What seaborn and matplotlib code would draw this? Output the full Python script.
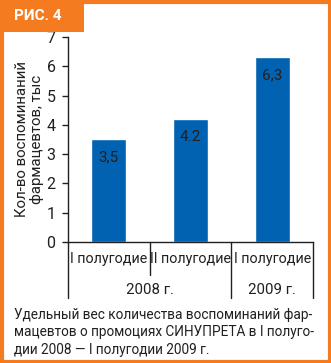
import matplotlib
matplotlib.use("Agg")
import matplotlib.pyplot as plt
import seaborn as sns
import pandas as pd
from matplotlib.patches import Rectangle

sns.set_style("white")
plt.rcParams['font.family'] = ['Roboto', 'DejaVu Sans']

categories = ["I полугодие", "II полугодие", "I полугодие"]
values = [3.5, 4.2, 6.3]
value_labels = ["3,5", "4.2", "6,3"]
years = ["2008 г.", "2009 г."]
yticks = [0, 1, 2, 3, 4, 5, 6, 7]

ORANGE = "#F47B20"
BLUE = "#0062B0"
TXT = "#231F20"

df = pd.DataFrame({"pos": [0, 1, 2], "val": values})

fig = plt.figure(figsize=(3.31, 3.63), dpi=100)
ax = fig.add_axes([68/331, 1-242/363, (313-68)/331, (242-37)/363])
sns.barplot(data=df, x="pos", y="val", color=BLUE, width=0.43, ax=ax,
            saturation=1, native_scale=True)
ax.set_xlim(-0.5, 2.5)
ax.set_ylim(0, 7)
ax.set_yticks(yticks)
ax.set_yticklabels([str(t) for t in yticks], fontsize=11.5, color=TXT)
ax.set_xticks([])
ax.set_xlabel("")
ax.set_ylabel("Кол-во воспоминаний\nфармацевтов, тыс", fontsize=10.8, color=TXT,
              labelpad=2, linespacing=1.05)
for s in ["top", "right"]:
    ax.spines[s].set_visible(False)
for s in ["left", "bottom"]:
    ax.spines[s].set_color(TXT)
    ax.spines[s].set_linewidth(1)
ax.tick_params(axis="y", direction="out", length=4, width=1, color=TXT, pad=5, left=True)

for i, (v, lab) in enumerate(zip(values, value_labels)):
    ax.text(i, v - 0.62, lab, ha="center", va="center", fontsize=11, color=TXT)

trans = ax.get_xaxis_transform()
for x, y0 in [(-0.5, -0.273), (0.5, -0.161), (1.5, -0.273), (2.5, -0.273)]:
    ax.plot([x, x], [0, y0], color=TXT, lw=1, transform=trans, clip_on=False)
for i, c in enumerate(categories):
    ax.text(i, -0.082, c, ha="center", va="center", fontsize=10.3, color=TXT, transform=trans)
ax.text(0.5, -0.235, years[0], ha="center", va="center", fontsize=10.8, color=TXT, transform=trans)
ax.text(2.0, -0.235, years[1], ha="center", va="center", fontsize=10.8, color=TXT, transform=trans)

fig.text(14/331, 1-308/363, "Удельный вес количества воспоминаний фар-\nмацевтов о промоциях СИНУПРЕТА в I полуго-\nдии 2008 — I полугодии 2009 г.",
         ha="left", va="top", fontsize=9.8, color=TXT, linespacing=1.3)

# border and header
fig.patches.append(Rectangle((1.5/331, 1.5/363), 1-3/331, 1-3/363, transform=fig.transFigure,
                             fill=False, edgecolor=ORANGE, lw=3))
fig.patches.append(Rectangle((0, 1-32/363), 84/331, 32/363, transform=fig.transFigure,
                             facecolor=ORANGE, edgecolor="none"))
fig.text(14/331, 1-16/363, "РИС. 4", ha="left", va="center", fontsize=11, color="white",
         fontweight="bold")

fig.savefig("out.png", dpi=100)
